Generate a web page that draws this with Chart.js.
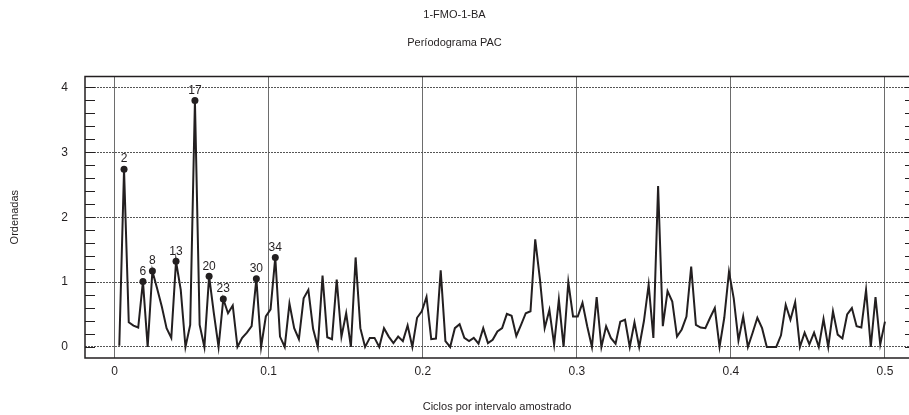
<!DOCTYPE html>
<html>
<head>
<meta charset="utf-8">
<script src="https://cdn.jsdelivr.net/npm/chart.js@4.4.0/dist/chart.umd.min.js"></script>
<style>
  html, body { margin: 0; padding: 0; background: #fff; }
  #wrap { width: 909px; height: 415px; }
</style>
</head>
<body>
<div id="wrap"><canvas id="grafico" width="909" height="415"></canvas></div>
<script>
const titulo = '1-FMO-1-BA'
const subtitulo = 'Períodograma PAC'
const tituloX = 'Ciclos por intervalo amostrado'
const tituloY = 'Ordenadas'

// tamanho da serie usada no periodograma (frequencia k / nSerie)
const nSerie = 326

// ordenadas do periodograma, k = 1..163
const ordenadas = [
  0.02, 2.74, 0.38, 0.33, 0.30, 1.01, 0.00, 1.17, 0.90, 0.62,
  0.29, 0.14, 1.32, 0.88, 0.00, 0.34, 3.80, 0.34, 0.00, 1.09,
  0.52, 0.00, 0.74, 0.52, 0.64, 0.00, 0.14, 0.22, 0.32, 1.05,
  0.00, 0.47, 0.58, 1.38, 0.16, 0.00, 0.67, 0.29, 0.12, 0.75,
  0.88, 0.28, 0.00, 1.10, 0.15, 0.12, 1.04, 0.16, 0.52, 0.00,
  1.38, 0.29, 0.00, 0.14, 0.14, 0.00, 0.29, 0.16, 0.06, 0.16,
  0.09, 0.33, 0.00, 0.45, 0.55, 0.77, 0.12, 0.13, 1.18, 0.09,
  0.00, 0.29, 0.35, 0.14, 0.09, 0.14, 0.05, 0.29, 0.06, 0.11,
  0.24, 0.29, 0.51, 0.48, 0.17, 0.34, 0.52, 0.55, 1.66, 1.04,
  0.29, 0.57, 0.04, 0.73, 0.00, 1.00, 0.47, 0.47, 0.68, 0.32,
  0.00, 0.77, 0.00, 0.32, 0.14, 0.05, 0.39, 0.42, 0.00, 0.38,
  0.00, 0.40, 0.96, 0.14, 2.48, 0.32, 0.86, 0.70, 0.16, 0.27,
  0.47, 1.24, 0.34, 0.30, 0.29, 0.45, 0.60, 0.00, 0.45, 1.16,
  0.75, 0.10, 0.47, 0.00, 0.22, 0.45, 0.29, 0.00, 0.00, 0.00,
  0.18, 0.65, 0.42, 0.69, 0.00, 0.22, 0.04, 0.22, 0.00, 0.43,
  0.00, 0.55, 0.19, 0.13, 0.50, 0.60, 0.32, 0.30, 0.88, 0.00,
  0.77, 0.04, 0.39
]

// pontos marcados com bolinha e numero
const pontosMarcados = [2, 6, 8, 13, 17, 20, 23, 30, 34]

const ticksX = [0, 0.1, 0.2, 0.3, 0.4, 0.5]
const ticksY = [0, 1, 2, 3, 4]

const fonte = '"Liberation Sans", Arial, sans-serif'
const corTinta = '#231f20'

// caixa (sem o lado direito, que fica fora da imagem), tracinhos do eixo y e numeros dos picos
const extrasPlugin = {
  id: 'extras',
  afterDatasetsDraw(chart) {
    const { ctx, chartArea: a, scales: { y } } = chart
    const meta = chart.getDatasetMeta(0)
    ctx.save()

    ctx.fillStyle = corTinta
    ctx.font = '12px ' + fonte
    ctx.textAlign = 'center'
    ctx.textBaseline = 'bottom'
    pontosMarcados.forEach(k => {
      const p = meta.data[k - 1]
      ctx.fillText(String(k), p.x, p.y - 4)
    })

    ctx.strokeStyle = corTinta
    ctx.lineWidth = 1.5
    ctx.beginPath()
    ctx.moveTo(a.right + 2, a.top)
    ctx.lineTo(a.left, a.top)
    ctx.lineTo(a.left, a.bottom)
    ctx.lineTo(a.right + 2, a.bottom)
    ctx.stroke()

    ctx.lineWidth = 1
    for (let i = 0; i <= 20; i++) {
      const py = Math.round(y.getPixelForValue(i * 0.2)) + 0.5
      ctx.beginPath()
      ctx.moveTo(a.left, py)
      ctx.lineTo(a.left + 10, py)
      ctx.moveTo(a.right - 4, py)
      ctx.lineTo(a.right + 2, py)
      ctx.stroke()
    }
    ctx.restore()
  }
}

const ctx = document.getElementById('grafico')

const config = {
  type: 'line',
  data: {
    datasets: [{
      data: ordenadas.map((v, i) => ({ x: (i + 1) / nSerie, y: v })),
      borderColor: corTinta,
      borderWidth: 2,
      backgroundColor: corTinta,
      pointRadius: c => pontosMarcados.includes(c.dataIndex + 1) ? 3.5 : 0,
      pointBorderWidth: 0,
      pointBackgroundColor: corTinta,
      tension: 0,
      fill: false
    }]
  },
  options: {
    responsive: false,
    animation: false,
    layout: { padding: 0 },
    plugins: {
      legend: { display: false },
      tooltip: { enabled: false },
      title: {
        display: true,
        text: titulo,
        color: corTinta,
        font: { family: fonte, size: 11, weight: 'normal' },
        padding: { top: 8, bottom: 15 }
      },
      subtitle: {
        display: true,
        text: subtitulo,
        color: corTinta,
        font: { family: fonte, size: 11 },
        padding: { top: 0, bottom: 27 }
      }
    },
    scales: {
      x: {
        type: 'linear',
        min: -0.0192,
        max: 0.5156,
        afterBuildTicks: s => { s.ticks = ticksX.map(v => ({ value: v })) },
        afterFit: s => { s.height = 57 },
        ticks: {
          color: corTinta,
          font: { family: fonte, size: 12 },
          padding: 6,
          maxRotation: 0,
          callback: v => String(v)
        },
        grid: { color: '#6d6d6d', lineWidth: 1, drawTicks: false },
        border: { display: false },
        title: {
          display: true,
          text: tituloX,
          color: corTinta,
          font: { family: fonte, size: 11 },
          padding: { top: 4, bottom: 1 }
        }
      },
      y: {
        min: -0.17,
        max: 4.17,
        afterBuildTicks: s => { s.ticks = ticksY.map(v => ({ value: v })) },
        afterFit: s => { s.width = 85 },
        ticks: {
          color: corTinta,
          font: { family: fonte, size: 12 },
          padding: 17
        },
        grid: { color: '#555', lineWidth: 1, drawTicks: false },
        border: { display: false, dash: [2, 1] },
        title: {
          display: true,
          text: tituloY,
          color: corTinta,
          font: { family: fonte, size: 11 },
          padding: { top: 8, bottom: 0 }
        }
      }
    }
  },
  plugins: [extrasPlugin]
}

const myChart = new Chart(ctx, config)
</script>
</body>
</html>
